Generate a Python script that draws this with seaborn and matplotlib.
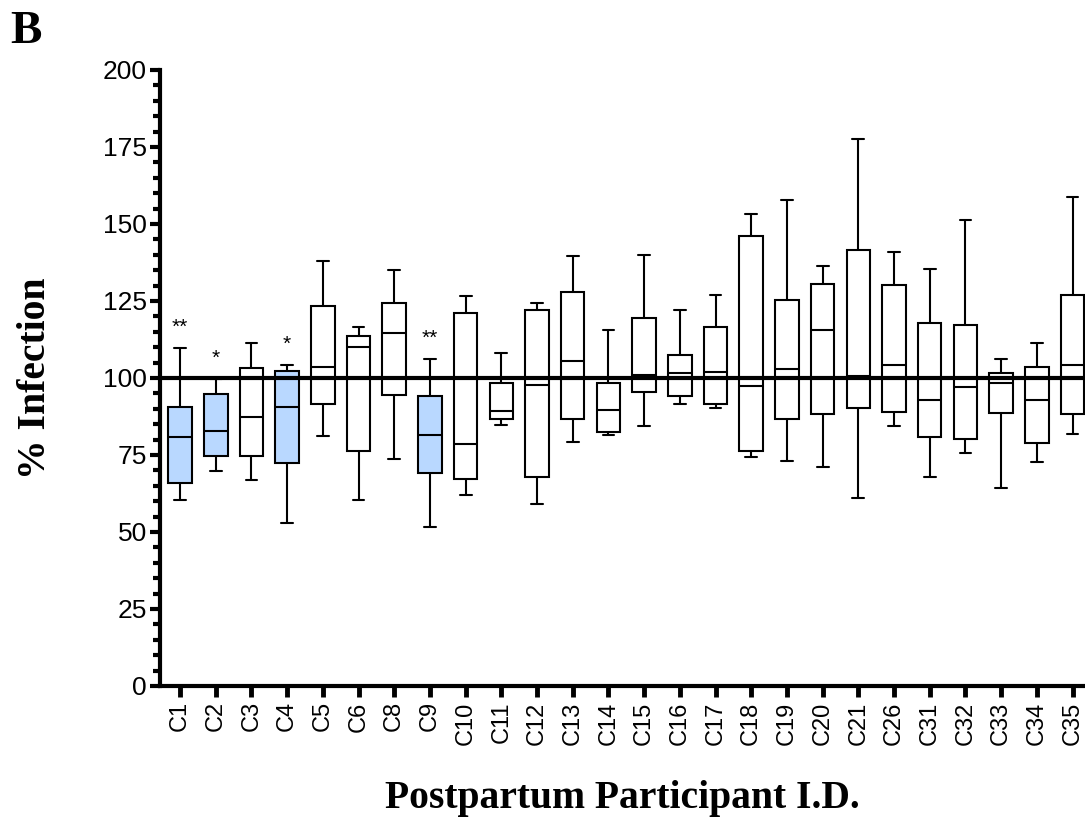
import matplotlib
matplotlib.use("Agg")
import matplotlib.pyplot as plt
from matplotlib.ticker import MultipleLocator
import numpy as np
import pandas as pd
import seaborn as sns

# participant ids and five-number summaries
participants = ["C1", "C2", "C3", "C4", "C5", "C6", "C8", "C9", "C10", "C11",
                "C12", "C13", "C14", "C15", "C16", "C17", "C18", "C19", "C20",
                "C21", "C26", "C31", "C32", "C33", "C34", "C35"]
wmin = [60.4, 69.8, 66.9, 52.9, 81.2, 60.3, 73.6, 51.5, 61.9, 84.7,
        59.1, 79.3, 81.4, 84.3, 91.5, 90.3, 74.3, 72.9, 71.0,
        61.0, 84.3, 67.8, 75.6, 64.2, 72.7, 81.7]
q1 = [66.0, 74.7, 74.6, 72.5, 91.5, 76.4, 94.6, 69.2, 67.3, 86.7,
      67.9, 86.8, 82.6, 95.5, 94.1, 91.4, 76.3, 86.7, 88.3,
      90.2, 88.8, 80.8, 80.3, 88.6, 78.8, 88.4]
med = [81.0, 82.8, 87.3, 90.6, 103.6, 110.1, 114.7, 81.4, 78.5, 89.4,
       97.7, 105.6, 89.5, 100.9, 101.6, 102.1, 97.5, 102.9, 115.5,
       100.6, 104.2, 92.7, 97.1, 98.3, 92.9, 104.2]
q3 = [90.6, 94.9, 103.4, 102.3, 123.4, 113.5, 124.3, 94.1, 121.0, 98.4,
      122.2, 127.9, 98.3, 119.4, 107.5, 116.4, 146.2, 125.3, 130.4,
      141.4, 130.2, 117.8, 117.1, 101.6, 103.5, 126.9]
wmax = [109.7, 99.7, 111.5, 104.2, 138.0, 116.5, 135.2, 106.2, 126.5, 108.2,
        124.4, 139.5, 115.6, 139.9, 122.1, 126.9, 153.1, 157.9, 136.4,
        177.5, 140.8, 135.3, 151.3, 106.1, 111.5, 158.8]

highlighted = ["C1", "C2", "C4", "C9"]
stars = {"C1": "**", "C2": "*", "C4": "*", "C9": "**"}

rows = []
for i, p in enumerate(participants):
    for v in (wmin[i], q1[i], med[i], q3[i], wmax[i]):
        rows.append({"participant": p, "infection": v})
df = pd.DataFrame(rows)

palette = {p: ("#B9D8FF" if p in highlighted else "white") for p in participants}

sns.set_style("ticks")
plt.rcParams["font.family"] = ["Liberation Sans", "DejaVu Sans"]
for key in ("text.color", "axes.labelcolor", "xtick.color", "ytick.color",
            "axes.edgecolor"):
    plt.rcParams[key] = "black"

fig = plt.figure(figsize=(10.85, 8.26), dpi=100)
ax = fig.add_axes([0.1475, 0.1695, 0.8525, 0.7458])

sns.boxplot(data=df, x="participant", y="infection", hue="participant",
            order=participants, palette=palette, legend=False,
            whis=(0, 100), width=0.66, saturation=1, linecolor="black",
            linewidth=1.5, showfliers=False, ax=ax)

ax.axhline(100, color="black", lw=3, zorder=5)

for i, p in enumerate(participants):
    if p in stars:
        ax.text(i, wmax[i] + 3.5, stars[p], ha="center", va="bottom",
                fontsize=15, color="black")

ax.set_ylim(0, 200)
ax.set_xlim(-0.56, 25.35)
ax.yaxis.set_major_locator(MultipleLocator(25))
ax.yaxis.set_minor_locator(MultipleLocator(5))

for side in ("top", "right"):
    ax.spines[side].set_visible(False)
for side in ("left", "bottom"):
    ax.spines[side].set_linewidth(3)

ax.tick_params(axis="y", which="major", length=7.5, width=3, labelsize=19, pad=2)
ax.tick_params(axis="y", which="minor", length=5, width=3)
ax.tick_params(axis="x", which="major", length=8, width=3.5, labelsize=17,
               rotation=90, pad=3)

ax.set_xlabel("Postpartum Participant I.D.", fontsize=28.5, fontweight="bold",
              family="Liberation Serif")
ax.set_ylabel("% Infection", fontsize=28.5, fontweight="bold",
              family="Liberation Serif")
ax.xaxis.set_label_coords(0.5, -0.152)
ax.yaxis.set_label_coords(-0.115, 0.5)

fig.text(0.009, 0.948, "B", fontsize=34, fontweight="bold",
         family="Liberation Serif")

fig.savefig("out.png", dpi=100)
